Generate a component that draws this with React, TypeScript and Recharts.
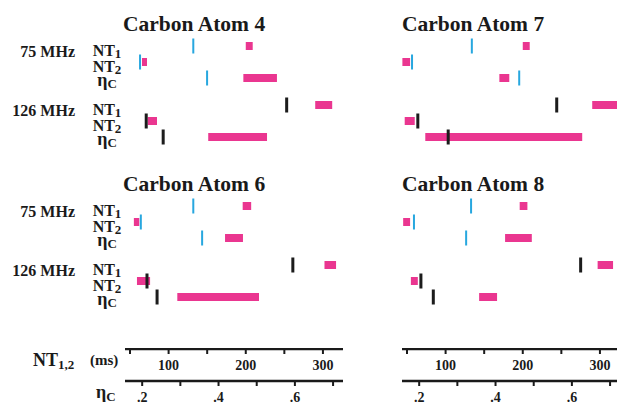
import { ComposedChart, Bar, Scatter, XAxis, YAxis } from 'recharts';

const atomTitles = ['Carbon Atom 4', 'Carbon Atom 7', 'Carbon Atom 6', 'Carbon Atom 8'];
const freqLabels = ['75 MHz', '126 MHz'];
const rowNames = ['NT1', 'NT2', 'ηC'];

// pink boxes = observed range [low, high]; ticks = calculated value
// row order: NT1 (ms), NT2 (ms), ηC
const atom4Range75 = [[200, 209], [65.5, 72], [0.465, 0.553]];
const atom4Calc75 = [132, 63, 0.37];
const atom4Range126 = [[290, 312], [73, 85], [0.373, 0.527]];
const atom4Calc126 = [253, 71, 0.255];

const atom7Range75 = [[200, 209], [44, 54], [0.41, 0.436]];
const atom7Calc75 = [134, 56.5, 0.462];
const atom7Range126 = [[290, 324], [47, 60], [0.216, 0.627]];
const atom7Calc126 = [244, 64, 0.276];

const atom6Range75 = [[196, 207], [55, 62], [0.417, 0.464]];
const atom6Calc75 = [132, 64, 0.357];
const atom6Range126 = [[302, 317], [59, 76], [0.292, 0.506]];
const atom6Calc126 = [261, 72, 0.239];

const atom8Range75 = [[196, 206], [45, 54], [0.425, 0.495]];
const atom8Calc75 = [133, 59, 0.323];
const atom8Range126 = [[297, 317], [55, 64], [0.357, 0.404]];
const atom8Calc126 = [275, 68, 0.237];

const ntTicks = [50, 100, 150, 200, 250, 300];
const etaTicks = [0.2, 0.3, 0.4, 0.5, 0.6, 0.7];

const NT_DOMAIN = [43.5, 326];
const ETA_DOMAIN = [0.155, 0.726];
const PLOT_W = 218;
const LABEL_W = 125;
const GROUP_H = 48;
const GROUP_PAD = 12;

const PINK = '#ea3690';
const CYAN = '#27a7df';
const BLACK = '#1c1c1c';
const INK = '#1a1a1a';
const FONT = '"Liberation Serif", "Times New Roman", serif';

const buildRows = (ranges: number[][], calcs: number[]) =>
  rowNames.map((row, i) =>
    i < 2
      ? { row, ntRange: ranges[i], ntCalc: calcs[i] }
      : { row, etaRange: ranges[i], etaCalc: calcs[i] }
  );

const makeTick = (color: string, w: number) => (props: any) => {
  const { cx, cy } = props;
  if (!Number.isFinite(cx) || !Number.isFinite(cy)) return <g />;
  return <rect x={cx - w / 2} y={cy - 7.5} width={w} height={15} fill={color} />;
};

const RowLabel = ({ y, payload, index, freq }: any) => {
  const name: string = payload.value;
  const isEta = name === 'ηC';
  return (
    <g fontFamily={FONT} fontWeight="bold" fill={INK}>
      {index === 0 && (
        <text x={75} y={y + 11} textAnchor="end" fontSize={16}>{freq}</text>
      )}
      {isEta ? (
        <text x={107} y={y + 8} textAnchor="middle" fontSize={18}>
          η<tspan fontSize={13} dy={2}>C</tspan>
        </text>
      ) : (
        <text x={107} y={y + 10} textAnchor="middle" fontSize={16}>
          {name.slice(0, 2)}<tspan fontSize={13} dy={2}>{name.slice(2)}</tspan>
        </text>
      )}
    </g>
  );
};

const GroupChart = ({ rows, left, top, labelW, freq, tickColor, tickW }: any) => (
  <div style={{ position: 'absolute', left, top }}>
    <ComposedChart
      layout="vertical"
      width={labelW + PLOT_W}
      height={GROUP_H + GROUP_PAD}
      data={rows}
      margin={{ top: 0, right: 0, bottom: GROUP_PAD, left: 0 }}
    >
      <XAxis xAxisId="nt" type="number" domain={NT_DOMAIN} allowDataOverflow hide />
      <XAxis xAxisId="eta" type="number" domain={ETA_DOMAIN} allowDataOverflow hide />
      <YAxis
        yAxisId="nt"
        type="category"
        dataKey="row"
        width={labelW}
        hide={labelW === 0}
        axisLine={false}
        tickLine={false}
        interval={0}
        tick={(p: any) => <RowLabel {...p} freq={freq} />}
      />
      <YAxis yAxisId="eta" type="category" dataKey="row" hide />
      <Bar xAxisId="nt" yAxisId="nt" dataKey="ntRange" fill={PINK} barSize={8} isAnimationActive={false} />
      <Bar xAxisId="eta" yAxisId="eta" dataKey="etaRange" fill={PINK} barSize={8} isAnimationActive={false} />
      <Scatter xAxisId="nt" yAxisId="nt" dataKey="ntCalc" shape={makeTick(tickColor, tickW)} isAnimationActive={false} />
      <Scatter xAxisId="eta" yAxisId="eta" dataKey="etaCalc" shape={makeTick(tickColor, tickW)} isAnimationActive={false} />
    </ComposedChart>
  </div>
);

const Panel = ({ plotLeft, top, withLabels, r75, c75, r126, c126 }: any) => {
  const labelW = withLabels ? LABEL_W : 0;
  return (
    <>
      <GroupChart
        rows={buildRows(r75, c75)}
        left={plotLeft - labelW}
        top={top + 38}
        labelW={labelW}
        freq={freqLabels[0]}
        tickColor={CYAN}
        tickW={2}
      />
      <GroupChart
        rows={buildRows(r126, c126)}
        left={plotLeft - labelW}
        top={top + 97}
        labelW={labelW}
        freq={freqLabels[1]}
        tickColor={BLACK}
        tickW={3}
      />
    </>
  );
};

const axisStyle = {
  axisLine: { stroke: INK, strokeWidth: 2.5 },
  tickLine: { stroke: INK, strokeWidth: 2 },
  tick: { fill: INK, fontSize: 14, fontWeight: 'bold', fontFamily: FONT },
  tickSize: 5,
  tickMargin: 6,
  interval: 0 as const,
};

const axisRows = ntTicks.map((nt, i) => ({ nt, eta: etaTicks[i] }));

// bottom axes stack by id: 0 (NT) next to the plot, 1 (ηC) below it
const AxisPair = ({ plotLeft }: { plotLeft: number }) => (
  <div style={{ position: 'absolute', left: plotLeft, top: 348 }}>
    <ComposedChart width={PLOT_W} height={63} data={axisRows} margin={{ top: 0, right: 0, bottom: 0, left: 0 }}>
      <XAxis
        xAxisId={0}
        dataKey="nt"
        type="number"
        domain={NT_DOMAIN}
        allowDataOverflow
        ticks={ntTicks}
        height={32}
        tickFormatter={(v: number) => (v % 100 === 0 ? String(v) : '')}
        {...axisStyle}
      />
      <XAxis
        xAxisId={1}
        dataKey="eta"
        type="number"
        domain={ETA_DOMAIN}
        allowDataOverflow
        ticks={etaTicks}
        height={30}
        tickFormatter={(v: number) => {
          const d = Math.round(v * 10);
          return d % 2 === 0 ? '.' + d : '';
        }}
        {...axisStyle}
      />
      <YAxis hide />
    </ComposedChart>
  </div>
);

export default function App() {
  return (
    <div
      style={{
        position: 'absolute',
        left: 0,
        top: 0,
        width: 617,
        height: 405,
        overflow: 'hidden',
        background: '#fff',
      }}
    >
      <svg width={617} height={405} style={{ position: 'absolute', left: 0, top: 0 }}>
        <g fontFamily={FONT} fontWeight="bold" fill={INK} fontSize={21.5}>
          <text x={123} y={31}>{atomTitles[0]}</text>
          <text x={402} y={31}>{atomTitles[1]}</text>
          <text x={123} y={191}>{atomTitles[2]}</text>
          <text x={402} y={191}>{atomTitles[3]}</text>
        </g>
        <g fontFamily={FONT} fontWeight="bold" fill={INK}>
          <text x={33} y={366} fontSize={18}>
            NT<tspan fontSize={13} dy={3}>1,2</tspan>
          </text>
          <text x={90} y={365} fontSize={15}>(ms)</text>
          <text x={96} y={398} fontSize={18}>
            η<tspan fontSize={13} dy={3}>C</tspan>
          </text>
        </g>
      </svg>
      <Panel plotLeft={125} top={0} withLabels r75={atom4Range75} c75={atom4Calc75} r126={atom4Range126} c126={atom4Calc126} />
      <Panel plotLeft={402} top={0} r75={atom7Range75} c75={atom7Calc75} r126={atom7Range126} c126={atom7Calc126} />
      <Panel plotLeft={125} top={160} withLabels r75={atom6Range75} c75={atom6Calc75} r126={atom6Range126} c126={atom6Calc126} />
      <Panel plotLeft={402} top={160} r75={atom8Range75} c75={atom8Calc75} r126={atom8Range126} c126={atom8Calc126} />
      <AxisPair plotLeft={125} />
      <AxisPair plotLeft={402} />
    </div>
  );
}
